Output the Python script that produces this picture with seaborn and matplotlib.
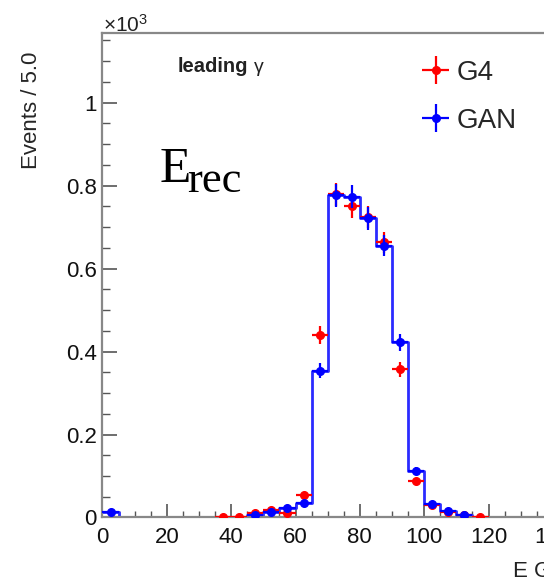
#%%
"""
Leading photon reconstructed energy: G4 vs GAN
"""
import numpy as np
import pandas as pd
import matplotlib
matplotlib.use('Agg')
import matplotlib.pyplot as plt
import seaborn as sns

#%%
# histogram data, in units of 10^3 events per 5 GeV bin (0 -> 150)
bin_width = 5.0
bin_edges = np.arange(0, 150 + bin_width, bin_width)

g4_counts = [0.0, 0.0, 0.0, 0.0, 0.0, 0.0, 0.0, 0.002, 0.002, 0.010,
             0.019, 0.011, 0.053, 0.440, 0.779, 0.750, 0.725, 0.663, 0.357, 0.087,
             0.030, 0.012, 0.006, 0.001, 0.0, 0.0, 0.0, 0.0, 0.0, 0.0]

gan_counts = [0.012, 0.0, 0.0, 0.0, 0.0, 0.0, 0.0, 0.0, 0.0, 0.005,
              0.013, 0.023, 0.035, 0.354, 0.777, 0.773, 0.721, 0.655, 0.422, 0.112,
              0.033, 0.016, 0.0065, 0.0, 0.0, 0.0, 0.0, 0.0, 0.0, 0.0]

legend_labels = ['G4', 'GAN']
x_ticks = [0, 20, 40, 60, 80, 100, 120, 140]
y_ticks = [0, 0.2, 0.4, 0.6, 0.8, 1.0]
y_tick_labels = ['0', '0.2', '0.4', '0.6', '0.8', '1']

#%%
sns.set_style('ticks')
plt.rcParams['font.family'] = ['Liberation Sans', 'DejaVu Sans']
plt.rcParams['mathtext.fontset'] = 'custom'
plt.rcParams['mathtext.rm'] = 'Liberation Sans'
plt.rcParams['mathtext.it'] = 'Liberation Sans:italic'

centers = bin_edges[:-1] + bin_width / 2
g4 = np.array(g4_counts)
gan = np.array(gan_counts)
# poisson errors, counts are in 10^3
g4_err = np.sqrt(g4 * 1000.) / 1000.
gan_err = np.sqrt(gan * 1000.) / 1000.

df = pd.DataFrame({'E': centers, 'gan': gan})

fig = plt.figure(figsize=(5.44, 5.8), dpi=100)
# axis runs past the right edge of the picture, like the cropped original
ax = fig.add_axes([0.1884, 0.1078, 0.887, 0.8353])

# bins as a list: seaborn chokes on an array here when weights are given
sns.histplot(data=df, x='E', weights='gan', bins=bin_edges.tolist(), element='step',
             fill=False, color='#2b2bff', linewidth=2.0, ax=ax)

m = g4 > 0
h_g4 = ax.errorbar(centers[m], g4[m], xerr=bin_width / 2, yerr=g4_err[m], fmt='o',
                   color='red', ms=5.5, elinewidth=1.6, capsize=0, zorder=3)
m = gan > 0
h_gan = ax.errorbar(centers[m], gan[m], xerr=bin_width / 2, yerr=gan_err[m], fmt='o',
                    color='blue', ms=5.5, elinewidth=1.6, capsize=0, zorder=4)

ax.set_xlim(0, 150)
ax.set_ylim(0, 1.168)
ax.set_xlabel('')
ax.set_ylabel('Events / 5.0', fontsize=16)
ax.yaxis.set_label_coords(-0.125, 0.84)

ax.set_xticks(x_ticks)
ax.set_xticklabels([str(t) for t in x_ticks])
ax.set_yticks(y_ticks)
ax.set_yticklabels(y_tick_labels)
ax.xaxis.set_minor_locator(matplotlib.ticker.MultipleLocator(5))
ax.yaxis.set_minor_locator(matplotlib.ticker.MultipleLocator(0.05))

ax.tick_params(which='both', direction='in', color='#555555', labelcolor='#111111',
               top=False, right=False)
ax.tick_params(axis='y', which='major', length=11, width=1.2, labelsize=16, pad=4)
ax.tick_params(axis='y', which='minor', length=5.5, width=1.0)
ax.tick_params(axis='x', which='major', length=9.5, width=1.2, labelsize=16, pad=6.5)
ax.tick_params(axis='x', which='minor', length=4, width=1.0)

for side in ['left', 'bottom', 'top', 'right']:
    ax.spines[side].set_color('#888888')
    ax.spines[side].set_linewidth(1.6)

ax.legend(handles=[h_g4, h_gan], labels=legend_labels, loc='upper left',
          bbox_to_anchor=(421 / 544, 1 - 60 / 580), bbox_transform=fig.transFigure,
          frameon=False, fontsize=20, handlelength=1.05, handletextpad=0.25,
          labelspacing=0.78, borderaxespad=0, borderpad=0)

#%%
# annotations
fig.text(103 / 544, 1 - 32 / 580, r'$\times10^{3}$', fontsize=15, va='baseline',
         color='#222222')
fig.text(178 / 544, 1 - 72 / 580, 'leading', fontsize=14.5, fontweight='bold',
         va='baseline', color='#222222')
fig.text(254 / 544, 1 - 72 / 580, 'γ', fontsize=14, va='baseline', color='#222222')
fig.text(160 / 544, 1 - 182 / 580, 'E', fontsize=37, family='Liberation Serif',
         va='baseline', color='black')
fig.text(187 / 544, 1 - 192 / 580, 'rec', fontsize=32, family='Liberation Serif',
         va='baseline', color='black')
fig.text(513 / 544, 1 - 577 / 580, 'E GeV', fontsize=16, va='baseline', color='#222222')

plt.savefig('out.png', dpi=100)
